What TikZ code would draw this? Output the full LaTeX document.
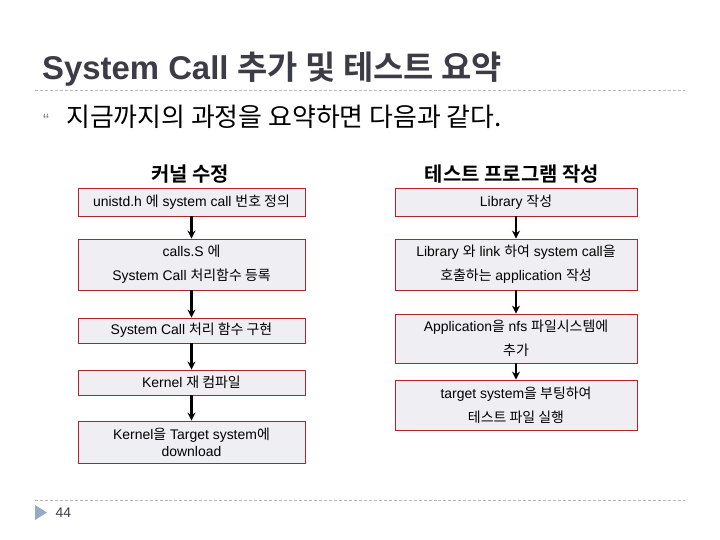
\documentclass[tikz,border=0pt]{standalone}
\usepackage{fontspec}
\setmainfont{Liberation Sans}
\newfontfamily\kr{Noto Sans CJK KR}[BoldFont={Noto Sans CJK KR Bold}]
\usetikzlibrary{arrows.meta,positioning}
\definecolor{titlegray}{RGB}{60,60,70}
\definecolor{boxedge}{RGB}{175,35,45}
\definecolor{boxfill}{RGB}{238,238,243}
\definecolor{rulegray}{RGB}{185,185,185}
\definecolor{bulletblue}{RGB}{150,170,200}

\begin{document}
\begin{tikzpicture}[
    x=1bp, y=-1bp,
    stepbox/.style={draw=boxedge,fill=boxfill,line width=0.9pt,inner sep=0pt,align=center,font=\fontsize{14}{24}\selectfont},
    leftbox/.style={stepbox,minimum width=227bp},
    rightbox/.style={stepbox,minimum width=242bp},
    head/.style={font=\kr\fontsize{20}{22}\selectfont\bfseries},
    arr/.style={-{Stealth[length=8pt,width=8pt]},line width=2.6pt},
    rule/.style={rulegray,dash pattern=on 3pt off 2pt,line width=0.6pt}
]
\useasboundingbox (0,0) rectangle (720,540);

% title and intro
\node[anchor=base west,inner sep=0pt,text=titlegray,font=\fontsize{33}{38}\selectfont\bfseries] (title) at (42,80) {System Call {\kr 추가 및 테스트 요약}};
\draw[rule] (35,90) -- (685,90);
\node[text=gray,font=\fontsize{18}{18}\selectfont] (bullet) at (46,120) {“};
\node[anchor=west,inner sep=0pt,font=\kr\fontsize{26}{30}\selectfont] (intro) at (66,117) {지금까지의 과정을 요약하면 다음과 같다.};

% kernel side
\node[head] (kernhead) at (190,174) {커널 수정};
\node[leftbox,minimum height=28bp] (unistd) at (191.5,202) {unistd.h {\kr 에} system call {\kr 번호 정의}};
\node[leftbox,minimum height=51bp] (calls) at (191.5,264.5) {calls.S {\kr 에}\\System Call {\kr 처리함수 등록}};
\node[leftbox,minimum height=25bp] (impl) at (191.5,330.5) {System Call {\kr 처리 함수 구현}};
\node[leftbox,minimum height=25bp] (build) at (191.5,382.5) {Kernel {\kr 재 컴파일}};
\node[leftbox,minimum height=42bp,font=\fontsize{14}{17}\selectfont] (down) at (191.5,442) {Kernel{\kr 을} Target system{\kr 에}\\download};

\draw[arr] (unistd) -- (calls);
\draw[arr] (calls) -- (impl);
\draw[arr] (impl) -- (build);
\draw[arr] (build) -- (down);

% test program side
\node[head] (testhead) at (512,174) {테스트 프로그램 작성};
\node[rightbox,minimum height=28bp] (lib) at (516,202) {Library {\kr 작성}};
\node[rightbox,minimum height=51bp] (app) at (516,264.5) {Library {\kr 와} link {\kr 하여} system call{\kr 을}\\{\kr 호출하는} application {\kr 작성}};
\node[rightbox,minimum height=49bp] (nfs) at (516,338.5) {Application{\kr 을} nfs {\kr 파일시스템에}\\{\kr 추가}};
\node[rightbox,minimum height=50bp] (boot) at (516,405) {target system{\kr 을 부팅하여}\\{\kr 테스트 파일 실행}};

\draw[arr] (lib) -- (app);
\draw[arr] (app) -- (nfs);
\draw[arr] (nfs) -- (boot);

% footer
\draw[rule] (35,500) -- (685,500);
\fill[bulletblue] (35,505) -- (47,512.5) -- (35,520) -- cycle;
\node[anchor=west,text=titlegray,font=\fontsize{14}{15}\selectfont] (page) at (52,513) {44};
\end{tikzpicture}
\end{document}
